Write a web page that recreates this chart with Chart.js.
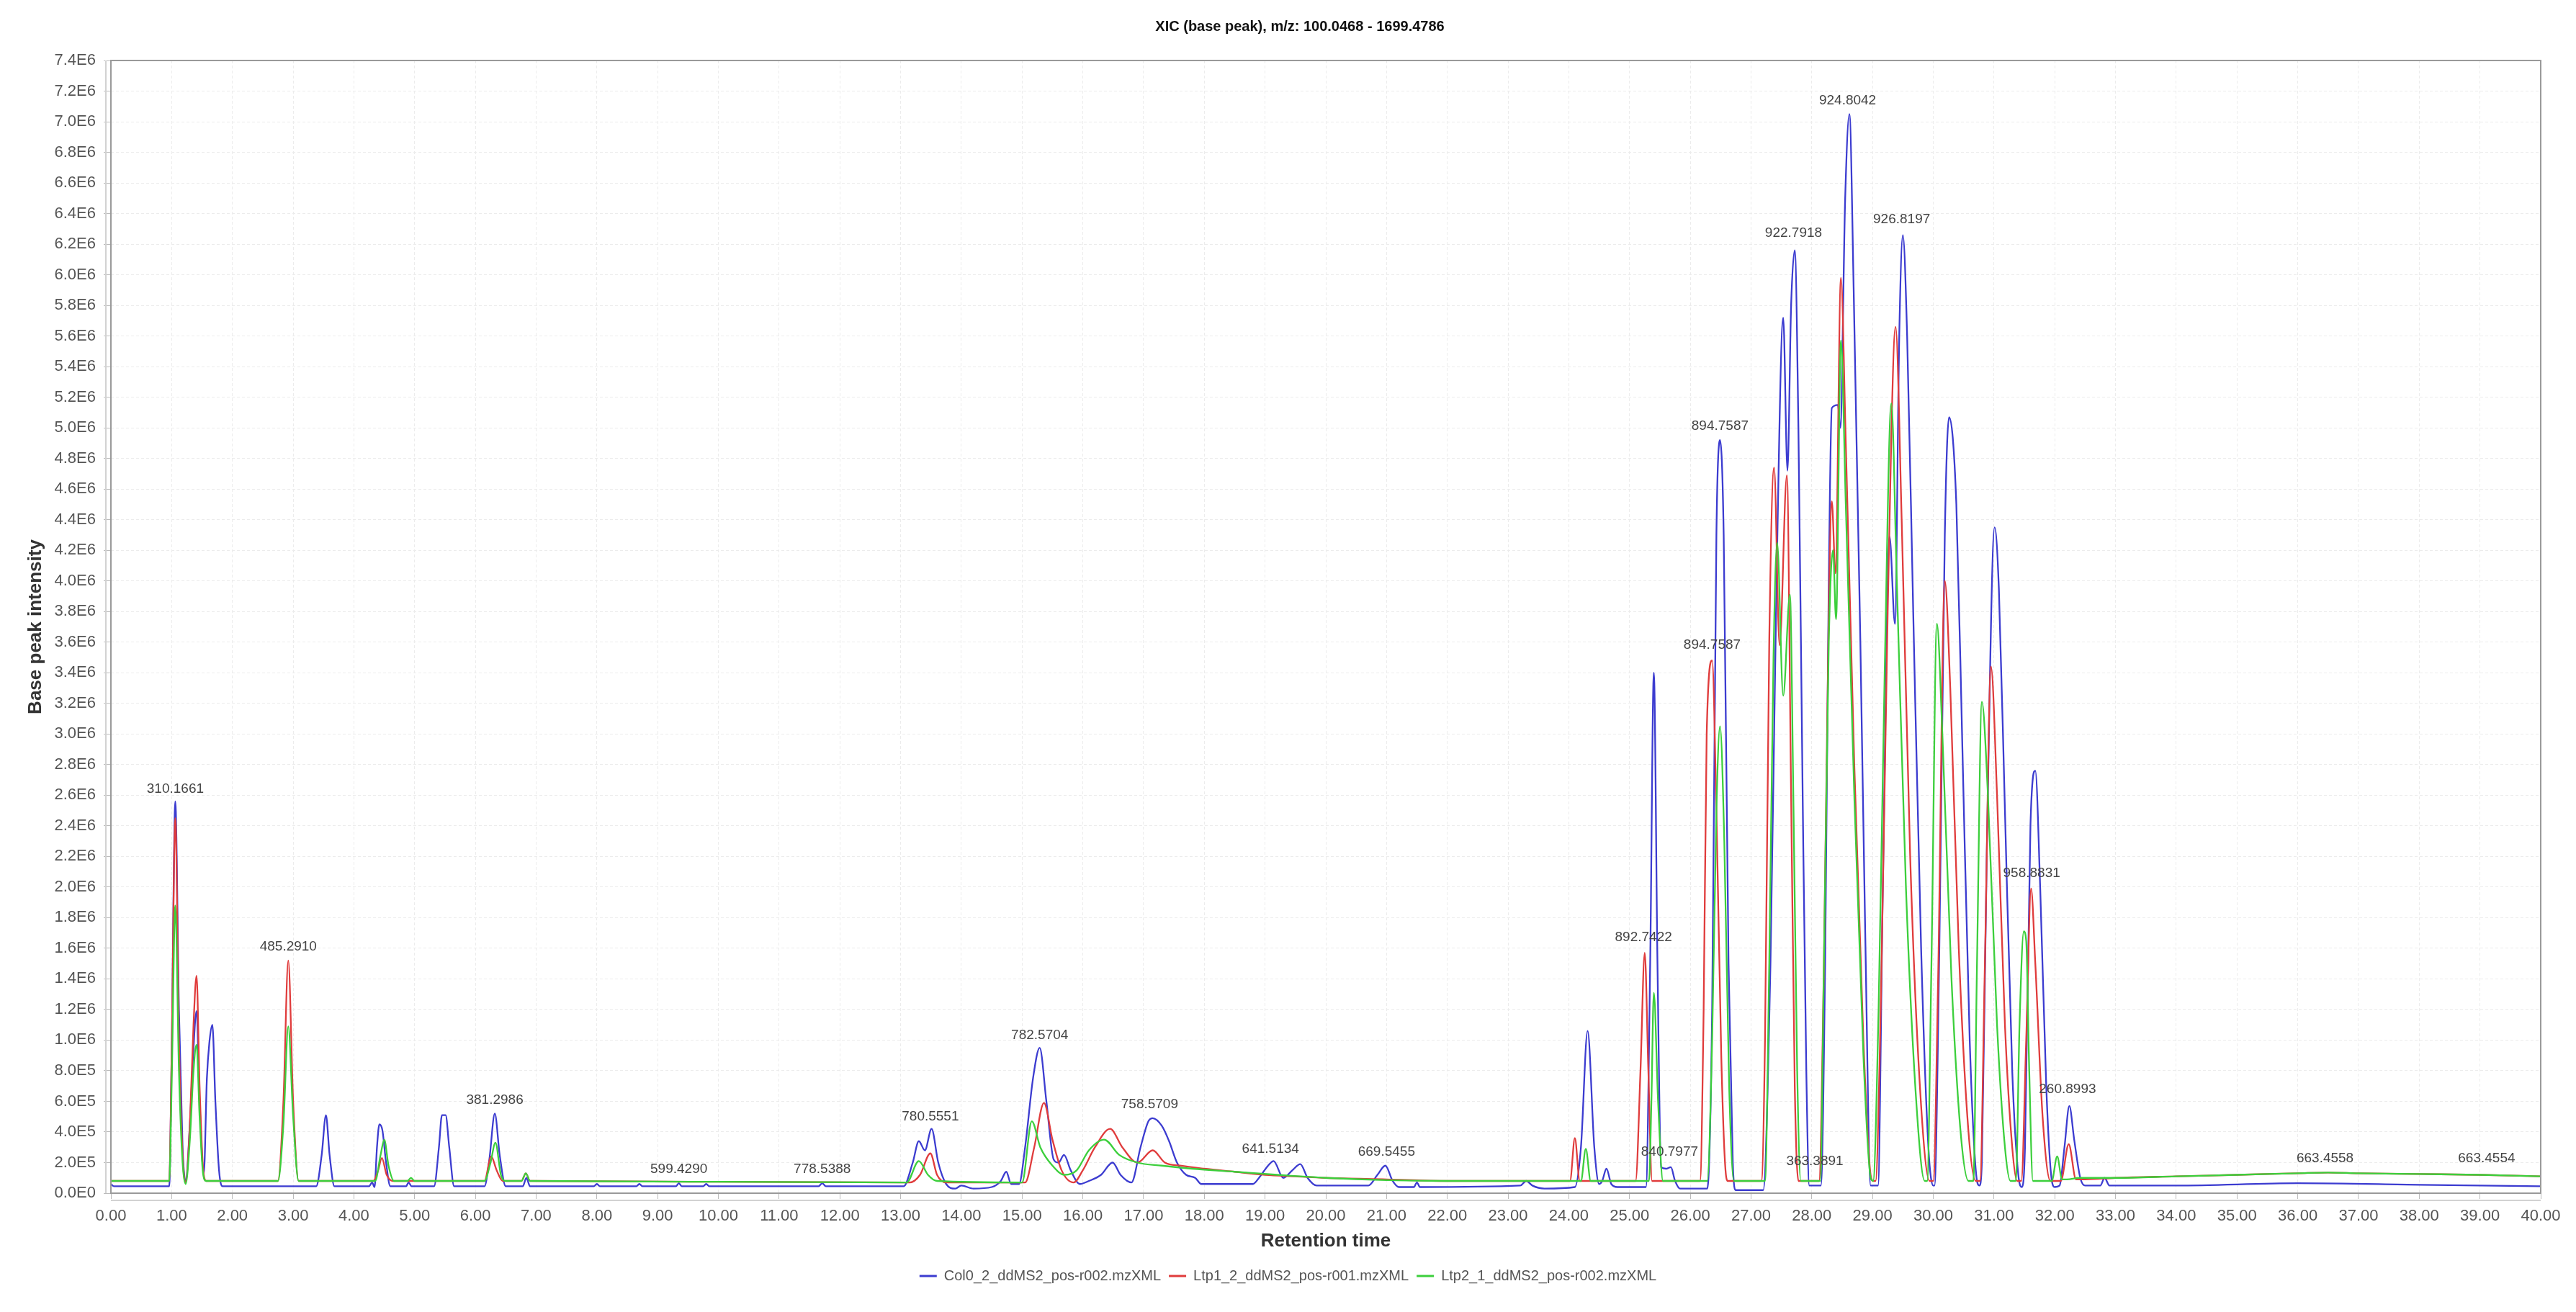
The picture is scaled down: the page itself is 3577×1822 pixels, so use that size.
<!DOCTYPE html>
<html>
<head>
<meta charset="utf-8">
<title>XIC (base peak)</title>
<script src="https://cdn.jsdelivr.net/npm/chart.js@4.4.1/dist/chart.umd.min.js"></script>
<style>
    html, body { margin: 0; padding: 0; background: #fff; }
    #wrap { width: 3577px; height: 1822px; }
</style>
</head>
<body>
<div id="wrap"><canvas id="xic-chart" width="3577" height="1822"></canvas></div>
<script>
/* =====================================================
   Data (retention time in min, intensity in 1E6 counts)
   ===================================================== */
const chartTitle = 'XIC (base peak), m/z: 100.0468 - 1699.4786';

const seriesNames = [
    'Col0_2_ddMS2_pos-r002.mzXML',
    'Ltp1_2_ddMS2_pos-r001.mzXML',
    'Ltp2_1_ddMS2_pos-r002.mzXML'
];

const col0Points = [
    [0.00,0.06],[0.05,0.045],[0.96,0.045],[1.00,0.9],[1.06,2.56],[1.12,1.2],[1.18,0.3],[1.23,0.08],
    [1.30,0.45],[1.36,0.95],[1.41,1.19],[1.46,0.6],[1.53,0.13],[1.58,0.75],[1.62,0.98],[1.67,1.10],[1.72,0.6],[1.78,0.15],[1.84,0.045],
    [3.38,0.045],[3.47,0.25],[3.54,0.51],[3.60,0.25],[3.68,0.045],
    [4.25,0.045],[4.30,0.07],[4.34,0.04],[4.38,0.3],[4.42,0.45],[4.47,0.41],[4.53,0.2],[4.60,0.045],
    [4.86,0.045],[4.90,0.07],[4.95,0.045],
    [5.32,0.045],[5.40,0.3],[5.45,0.51],[5.51,0.51],[5.57,0.3],[5.65,0.045],
    [6.15,0.045],[6.23,0.22],[6.32,0.52],[6.40,0.25],[6.50,0.045],
    [6.78,0.045],[6.84,0.1],[6.90,0.045],
    [7.95,0.045],[8.00,0.06],[8.05,0.045],[8.65,0.045],[8.70,0.06],[8.75,0.045],[9.30,0.045],[9.35,0.065],[9.40,0.045],
    [9.75,0.045],[9.80,0.06],[9.85,0.045],[11.65,0.045],[11.71,0.065],[11.77,0.045],
    [13.05,0.045],[13.20,0.2],[13.30,0.34],[13.40,0.28],[13.51,0.42],[13.62,0.2],[13.75,0.06],[13.90,0.03],[14.00,0.05],[14.20,0.03],
    [14.50,0.04],[14.65,0.08],[14.74,0.14],[14.82,0.06],[14.95,0.06],
    [15.05,0.3],[15.18,0.75],[15.29,0.95],[15.40,0.6],[15.52,0.22],[15.60,0.2],[15.69,0.25],[15.80,0.15],[15.95,0.06],[16.10,0.08],
    [16.30,0.12],[16.49,0.2],[16.62,0.12],[16.80,0.07],[16.95,0.3],[17.08,0.47],[17.15,0.49],[17.30,0.44],[17.42,0.34],[17.55,0.2],
    [17.70,0.12],[17.85,0.1],[17.95,0.06],
    [18.80,0.06],[18.90,0.1],[19.05,0.18],[19.14,0.21],[19.30,0.1],[19.45,0.15],[19.58,0.19],[19.70,0.1],[19.85,0.05],
    [20.70,0.05],[20.85,0.12],[20.98,0.18],[21.10,0.08],[21.20,0.04],[21.45,0.04],[21.50,0.07],[21.55,0.04],
    [23.20,0.05],[23.30,0.08],[23.40,0.05],[23.60,0.03],[24.10,0.04],[24.20,0.3],[24.31,1.06],[24.42,0.3],[24.50,0.06],
    [24.55,0.08],[24.62,0.16],[24.70,0.06],[24.80,0.04],
    [25.27,0.04],[25.34,1.5],[25.40,3.4],[25.46,1.5],[25.52,0.17],[25.60,0.16],[25.68,0.17],[25.75,0.08],[25.83,0.03],
    [26.28,0.03],[26.36,1.2],[26.43,4.3],[26.49,4.92],[26.55,4.3],[26.63,1.5],[26.70,0.2],[26.75,0.02],[27.20,0.02],
    [27.32,1.5],[27.42,4.0],[27.53,5.72],[27.60,4.72],[27.66,5.8],[27.72,6.16],[27.78,5.0],[27.85,2.6],[27.91,0.8],[27.96,0.05],
    [28.15,0.05],[28.22,1.5],[28.28,4.0],[28.33,5.13],[28.43,5.15],[28.47,5.0],[28.55,6.5],[28.62,7.05],[28.69,5.9],[28.80,3.6],
    [28.88,1.7],[28.97,0.05],
    [29.09,0.05],[29.17,2.0],[29.28,4.29],[29.37,3.72],[29.44,5.6],[29.50,6.26],[29.57,5.6],[29.67,3.8],[29.80,1.6],[29.92,0.3],[30.00,0.05],
    [30.02,0.05],[30.10,1.6],[30.19,4.3],[30.26,5.07],[30.38,4.5],[30.48,2.9],[30.60,1.0],[30.70,0.15],[30.76,0.05],
    [30.80,0.2],[30.88,2.2],[31.01,4.35],[31.08,3.95],[31.18,2.5],[31.30,0.8],[31.40,0.12],[31.46,0.04],
    [31.51,0.3],[31.60,2.4],[31.68,2.76],[31.76,2.0],[31.86,0.7],[31.94,0.12],[32.00,0.04],
    [32.08,0.05],[32.16,0.3],[32.24,0.57],[32.32,0.35],[32.42,0.1],[32.50,0.05],[32.75,0.05],[32.82,0.1],[32.90,0.05],
    [34.00,0.05],[36.00,0.065],[38.00,0.055],[40.00,0.045]
];

const ltp1Points = [
    [0.00,0.08],[0.96,0.08],[1.00,0.9],[1.06,2.45],[1.12,1.0],[1.18,0.25],[1.23,0.07],
    [1.30,0.45],[1.36,1.1],[1.41,1.42],[1.46,0.7],[1.52,0.15],[1.57,0.08],
    [2.75,0.08],[2.84,0.6],[2.92,1.52],[3.00,0.6],[3.09,0.08],
    [4.32,0.08],[4.40,0.15],[4.46,0.23],[4.54,0.12],[4.64,0.08],
    [6.15,0.08],[6.26,0.24],[6.35,0.15],[6.45,0.08],
    [6.76,0.08],[6.83,0.13],[6.90,0.08],
    [10.00,0.075],[13.15,0.07],[13.32,0.12],[13.49,0.26],[13.60,0.12],[13.75,0.07],
    [15.05,0.07],[15.20,0.3],[15.36,0.59],[15.50,0.35],[15.65,0.15],[15.85,0.07],[16.00,0.15],[16.20,0.3],[16.45,0.42],
    [16.65,0.3],[16.90,0.2],[17.15,0.28],[17.35,0.2],[17.60,0.18],[18.00,0.16],[18.50,0.14],[19.00,0.12],[19.50,0.11],
    [20.00,0.1],[21.00,0.09],[22.00,0.08],[24.02,0.08],[24.10,0.36],[24.18,0.08],
    [25.10,0.08],[25.18,0.8],[25.25,1.57],[25.31,0.8],[25.37,0.08],
    [26.16,0.08],[26.22,1.2],[26.27,3.0],[26.36,3.48],[26.43,2.5],[26.51,0.9],[26.58,0.15],[26.62,0.08],
    [27.17,0.08],[27.23,1.0],[27.30,3.6],[27.38,4.74],[27.47,3.58],[27.59,4.69],[27.66,2.6],[27.72,0.7],[27.78,0.08],
    [28.12,0.08],[28.20,1.5],[28.28,3.8],[28.33,4.52],[28.39,4.05],[28.48,5.98],[28.56,4.9],[28.70,2.8],[28.85,1.0],[28.96,0.15],[29.01,0.08],
    [29.05,0.08],[29.14,1.3],[29.25,3.8],[29.38,5.66],[29.48,4.4],[29.62,2.2],[29.78,0.7],[29.94,0.08],
    [30.00,0.08],[30.08,1.4],[30.19,4.0],[30.28,3.3],[30.42,1.6],[30.58,0.4],[30.70,0.08],
    [30.77,0.08],[30.85,1.5],[30.95,3.44],[31.05,2.6],[31.18,1.1],[31.30,0.3],[31.38,0.08],
    [31.45,0.08],[31.53,1.0],[31.61,1.99],[31.68,1.5],[31.80,0.5],[31.93,0.08],
    [32.10,0.08],[32.23,0.32],[32.35,0.09],[32.50,0.09],[33.00,0.1],[34.00,0.11],[35.00,0.12],[36.00,0.13],[36.50,0.135],
    [37.00,0.13],[38.00,0.125],[39.00,0.12],[40.00,0.11]
];

const ltp2Points = [
    [0.00,0.08],[0.96,0.08],[1.00,0.7],[1.06,1.88],[1.12,0.8],[1.18,0.2],[1.23,0.06],
    [1.30,0.35],[1.36,0.8],[1.41,0.97],[1.46,0.5],[1.52,0.12],[1.57,0.08],
    [2.75,0.08],[2.84,0.45],[2.92,1.09],[3.00,0.5],[3.09,0.08],
    [4.35,0.08],[4.44,0.25],[4.50,0.35],[4.57,0.18],[4.66,0.08],
    [4.88,0.08],[4.94,0.1],[5.00,0.08],
    [6.15,0.08],[6.25,0.2],[6.33,0.33],[6.42,0.12],[6.50,0.08],
    [6.76,0.08],[6.83,0.13],[6.90,0.08],
    [10.00,0.075],[13.10,0.07],[13.30,0.21],[13.45,0.12],[13.60,0.08],
    [15.00,0.07],[15.16,0.47],[15.30,0.3],[15.50,0.18],[15.70,0.12],[15.90,0.15],[16.10,0.28],[16.35,0.35],[16.60,0.25],
    [16.90,0.2],[17.30,0.18],[17.80,0.16],[18.50,0.14],[19.20,0.12],[20.00,0.1],[21.00,0.085],[22.00,0.08],
    [24.20,0.08],[24.28,0.29],[24.36,0.08],
    [25.32,0.08],[25.36,0.6],[25.40,1.31],[25.47,0.6],[25.55,0.08],
    [26.28,0.08],[26.36,1.0],[26.43,2.5],[26.49,3.05],[26.56,2.3],[26.64,0.7],[26.72,0.08],
    [27.23,0.08],[27.30,1.5],[27.37,3.5],[27.43,4.25],[27.53,3.25],[27.64,3.91],[27.70,2.5],[27.76,0.8],[27.82,0.08],
    [28.14,0.08],[28.20,1.5],[28.28,3.6],[28.35,4.2],[28.40,3.75],[28.48,5.57],[28.56,4.5],[28.70,2.6],[28.85,0.9],[28.97,0.1],[29.01,0.08],
    [29.10,1.2],[29.20,3.4],[29.31,5.16],[29.40,4.0],[29.55,2.0],[29.72,0.6],[29.86,0.08],
    [29.90,0.08],[29.97,1.5],[30.06,3.72],[30.15,3.0],[30.30,1.4],[30.45,0.4],[30.58,0.08],
    [30.66,0.08],[30.72,1.5],[30.80,3.21],[30.90,2.6],[31.05,1.1],[31.18,0.3],[31.27,0.08],
    [31.36,0.08],[31.42,1.1],[31.49,1.71],[31.53,1.65],[31.58,0.8],[31.64,0.08],
    [31.95,0.08],[32.04,0.24],[32.12,0.09],[32.20,0.09],[32.40,0.1],[33.00,0.1],[34.00,0.11],[35.00,0.12],[36.00,0.13],
    [36.50,0.135],[37.00,0.13],[38.00,0.125],[39.00,0.12],[40.00,0.11]
];

// peak annotations (m/z text, retention time, label height in 1E6)
const peakLabels = ['310.1661','485.2910','381.2986','599.4290','778.5388','780.5551','782.5704','758.5709',
    '641.5134','669.5455','892.7422','840.7977','894.7587','894.7587','922.7918','363.3891','924.8042',
    '926.8197','958.8831','260.8993','663.4558','663.4554'];
const peakLabelRt = [1.06, 2.92, 6.32, 9.35, 11.71, 13.49, 15.29, 17.10, 19.09, 21.00, 25.23, 25.66, 26.36,
    26.49, 27.70, 28.05, 28.59, 29.48, 31.62, 32.21, 36.45, 39.11];
const peakLabelInt = [2.64, 1.61, 0.61, 0.155, 0.155, 0.50, 1.03, 0.58, 0.29, 0.27, 1.67, 0.27, 3.58,
    5.01, 6.27, 0.21, 7.14, 6.36, 2.09, 0.68, 0.225, 0.225];

const seriesColors = ['#3c3cd0', '#e03c3c', '#3ccf3c'];
const MEGA = 1e6;

document.addEventListener('DOMContentLoaded', function() {

    const FONT = "'Liberation Sans', Arial, sans-serif";
    Chart.defaults.font.family = FONT;

    const toXY = pts => pts.map(p => ({ x: p[0], y: p[1] * MEGA }));

    function sciLabel(v) {
        if (Math.abs(v) < 1) return '0.0E0';
        const parts = Number(v).toExponential(1).split('e');
        return parts[0] + 'E' + parseInt(parts[1], 10);
    }

    /* =====================================================
       Title, frame, offset axis lines and peak labels
       ===================================================== */
    const xicDecor = {
        id: 'xicDecor',
        beforeDraw(chart) {
            const ctx = chart.ctx;
            ctx.save();
            ctx.fillStyle = '#ffffff';
            ctx.fillRect(0, 0, chart.width, chart.height);
            ctx.font = 'bold 20px ' + FONT;
            ctx.fillStyle = '#111';
            ctx.textAlign = 'center';
            ctx.textBaseline = 'middle';
            ctx.fillText(chartTitle, 1805, 37);
            ctx.restore();
        },
        afterDatasetsDraw(chart) {
            const { ctx, chartArea: a, scales } = chart;
            ctx.save();
            ctx.strokeStyle = '#9a9a9a';
            ctx.lineWidth = 2;
            ctx.strokeRect(a.left, a.top, a.right - a.left, a.bottom - a.top);

            ctx.strokeStyle = '#d2d2d2';
            ctx.beginPath();
            ctx.moveTo(a.left - 7, a.top);
            ctx.lineTo(a.left - 7, a.bottom);
            ctx.moveTo(a.left, a.bottom + 10);
            ctx.lineTo(a.right, a.bottom + 10);
            ctx.stroke();

            ctx.font = '19px ' + FONT;
            ctx.fillStyle = '#444';
            ctx.textAlign = 'center';
            ctx.textBaseline = 'middle';
            peakLabels.forEach((txt, i) => {
                ctx.fillText(txt, scales.x.getPixelForValue(peakLabelRt[i]),
                    scales.y.getPixelForValue(peakLabelInt[i] * MEGA));
            });
            ctx.restore();
        }
    };

    const pointSets = [col0Points, ltp1Points, ltp2Points];
    const datasets = pointSets.map((pts, i) => ({
        label: seriesNames[i],
        data: toXY(pts),
        borderColor: seriesColors[i],
        backgroundColor: seriesColors[i],
        borderWidth: 2.3,
        pointRadius: 0,
        fill: false,
        cubicInterpolationMode: 'monotone',
        order: 3 - i
    }));

    const ctx = document.getElementById('xic-chart').getContext('2d');
    new Chart(ctx, {
        type: 'line',
        data: { datasets: datasets },
        plugins: [xicDecor],
        options: {
            responsive: false,
            animation: false,
            devicePixelRatio: 1,
            parsing: false,
            layout: { padding: { left: 0, right: 0, top: 84, bottom: 30 } },
            plugins: {
                title: { display: false },
                legend: {
                    position: 'bottom',
                    labels: {
                        boxWidth: 24,
                        boxHeight: 3,
                        padding: 11,
                        color: '#555',
                        font: { size: 20 },
                        sort: (a, b) => a.datasetIndex - b.datasetIndex,
                        generateLabels: chart => Chart.defaults.plugins.legend.labels.generateLabels(chart)
                            .map(l => Object.assign(l, { lineWidth: 0 }))
                    }
                },
                tooltip: { enabled: false }
            },
            scales: {
                x: {
                    type: 'linear',
                    min: 0,
                    max: 40,
                    afterFit: s => { s.height = 94; s.paddingRight = 49; },
                    ticks: {
                        stepSize: 1,
                        autoSkip: false,
                        maxRotation: 0,
                        padding: 11,
                        color: '#555',
                        font: { size: 22 },
                        callback: v => Number(v).toFixed(2)
                    },
                    grid: { color: '#ececec', tickLength: 8, tickColor: '#bbb' },
                    border: { display: false, dash: [4, 3] },
                    title: {
                        display: true,
                        text: 'Retention time',
                        color: '#333',
                        font: { size: 26, weight: 'bold' },
                        padding: { top: 0, bottom: 12 }
                    }
                },
                y: {
                    min: 0,
                    max: 7.4e6,
                    afterFit: s => { s.width = 154; },
                    ticks: {
                        stepSize: 2e5,
                        autoSkip: false,
                        padding: 11,
                        color: '#555',
                        font: { size: 22 },
                        callback: v => sciLabel(v)
                    },
                    grid: { color: '#ececec', tickLength: 10, tickColor: '#bbb' },
                    border: { display: false, dash: [4, 3] },
                    title: {
                        display: true,
                        text: 'Base peak intensity',
                        color: '#333',
                        font: { size: 26, weight: 'bold' },
                        padding: { top: 34, bottom: 0 }
                    }
                }
            }
        }
    });

});
</script>
</body>
</html>
